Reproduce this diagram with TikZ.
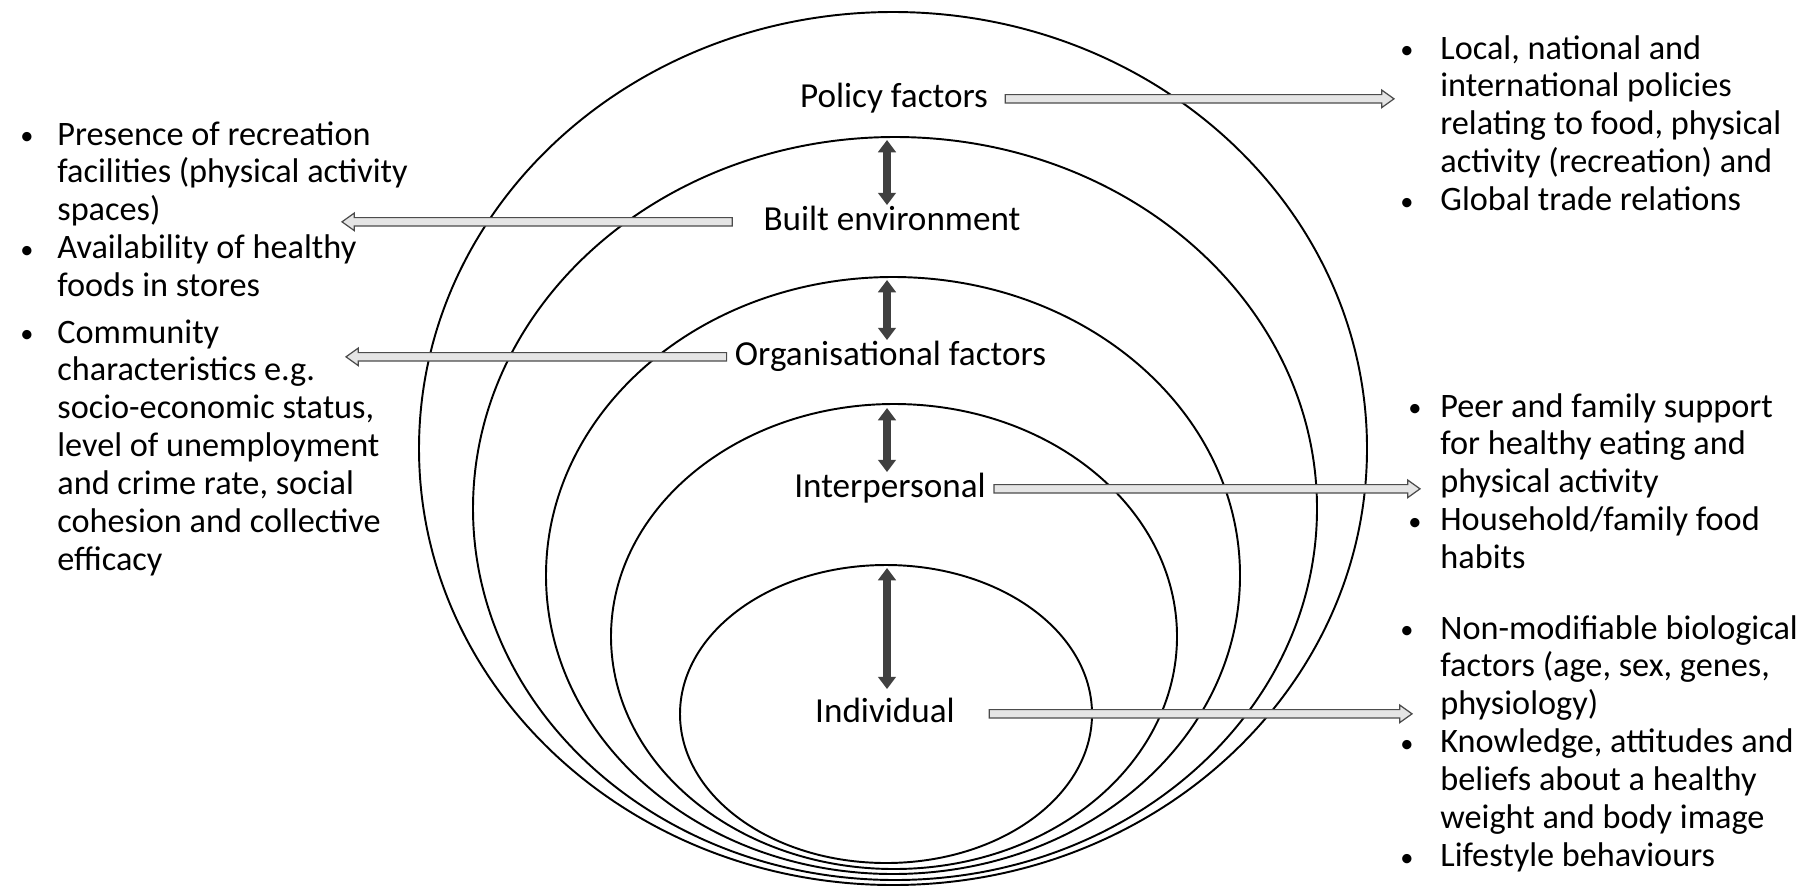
\documentclass[tikz,border=0pt]{standalone}
\usepackage{fontspec}
\setmainfont{Carlito}
\usetikzlibrary{arrows.meta,calc}

\tikzset{
  ring/.style={line width=1.1pt},
  layer/.style={font=\fontsize{20}{24}\selectfont, inner sep=0pt,
    text height=14pt, text depth=4.7pt, anchor=base},
  bullets/.style={font=\fontsize{19.5}{21.6}\selectfont, inner sep=0pt,
    anchor=base west},
  updown/.style={line width=4.6pt, draw=black!75,
    {Triangle[length=7pt,width=10pt]}-{Triangle[length=7pt,width=10pt]}},
  hollow/.style={draw=black!70, fill=black!10, line width=0.7pt},
}

% small bullet
\newcommand{\bul}{\raisebox{0.3pt}{\fontsize{15}{15}\selectfont\textbullet}}

% flat arrow from #1 towards the x of #2
\newcommand{\hollowarrow}[2]{%
  \draw[hollow] let \p1=(#1), \p2=(#2), \n1={sign(\x2-\x1)} in
    (\x1,\y1+2.4pt) -- (\x2-\n1*7pt,\y1+2.4pt) -- (\x2-\n1*7pt,\y1+5pt)
    -- (\x2,\y1) -- (\x2-\n1*7pt,\y1-5pt) -- (\x2-\n1*7pt,\y1-2.4pt)
    -- (\x1,\y1-2.4pt) -- cycle;}

\begin{document}
\begin{tikzpicture}[x=0.2mm, y=-0.2mm]
  \useasboundingbox (0,0) rectangle (1807,887);
  % ellipses
  \draw[ring] (893,448.5) ellipse [x radius=474, y radius=436.5];
  \draw[ring] (895,508.5) ellipse [x radius=422, y radius=371.5];
  \draw[ring] (893,575.5) ellipse [x radius=347, y radius=298.5];
  \draw[ring] (894,636.5) ellipse [x radius=283, y radius=232.5];
  \draw[ring] (886,714) ellipse [x radius=206, y radius=149];
  % tops
  \coordinate (e2) at (887,140);
  \coordinate (e3) at (887,280);
  \coordinate (e4) at (887,408);
  \coordinate (e5) at (887,568);
  % labels
  \node[layer] (policy) at (894,107) {Policy factors};
  \node[layer] (built) at (892,230) {Built environment};
  \node[layer] (organ) at (890.5,365) {Organisational factors};
  \node[layer] (inter) at (890,497) {Interpersonal};
  \node[layer] (indiv) at (885,722) {Individual};
  % arrows between layers
  \draw[updown] (e2) -- (e2 |- built.north);
  \draw[updown] (e3) -- (e3 |- organ.north);
  \draw[updown] (e4) -- (e4 |- inter.north);
  \draw[updown] (e5) -- ([yshift=1.6mm]e5 |- indiv.north);
  % arrow tips
  \coordinate (pol-tip) at (1394,0);
  \coordinate (built-tip) at (342,0);
  \coordinate (organ-tip) at (346,0);
  \coordinate (inter-tip) at (1420,0);
  \coordinate (indiv-tip) at (1412,0);
  \hollowarrow{[xshift=3.4mm]policy.east}{pol-tip}
  \hollowarrow{[xshift=-6.2mm]built.west}{built-tip}
  \hollowarrow{[xshift=-1.6mm]organ.west}{organ-tip}
  \hollowarrow{[xshift=1.6mm]inter.east}{inter-tip}
  \hollowarrow{[xshift=6.8mm]indiv.east}{indiv-tip}
  % left lists
  \node[bullets] (left-a) at (20,145) {%
    \begin{tabular}[t]{@{}p{7.4mm}@{}l@{}}
      \bul & Presence of recreation\\
      & facilities (physical activity\\
      & spaces)\\
      \bul & Availability of healthy\\
      & foods in stores
    \end{tabular}};
  \node[bullets] (left-b) at (20,343) {%
    \begin{tabular}[t]{@{}p{7.4mm}@{}l@{}}
      \bul & Community\\
      & characteristics e.g.\\
      & socio-economic status,\\
      & level of unemployment\\
      & and crime rate, social\\
      & cohesion and collective\\
      & efficacy
    \end{tabular}};
  % right lists
  \node[bullets] (right-a) at (1400,59) {%
    \begin{tabular}[t]{@{}p{8mm}@{}l@{}}
      \bul & Local, national and\\
      & international policies\\
      & relating to food, physical\\
      & activity (recreation) and\\
      \bul & Global trade relations
    \end{tabular}};
  \node[bullets] (right-b) at (1408,417) {%
    \begin{tabular}[t]{@{}p{6.4mm}@{}l@{}}
      \bul & Peer and family support\\
      & for healthy eating and\\
      & physical activity\\
      \bul & Household/family food\\
      & habits
    \end{tabular}};
  \node[bullets] (right-c) at (1400,639) {%
    \begin{tabular}[t]{@{}p{8mm}@{}l@{}}
      \bul & Non-modifiable biological\\
      & factors (age, sex, genes,\\
      & physiology)\\
      \bul & Knowledge, attitudes and\\
      & beliefs about a healthy\\
      & weight and body image\\
      \bul & Lifestyle behaviours
    \end{tabular}};
\end{tikzpicture}
\end{document}
